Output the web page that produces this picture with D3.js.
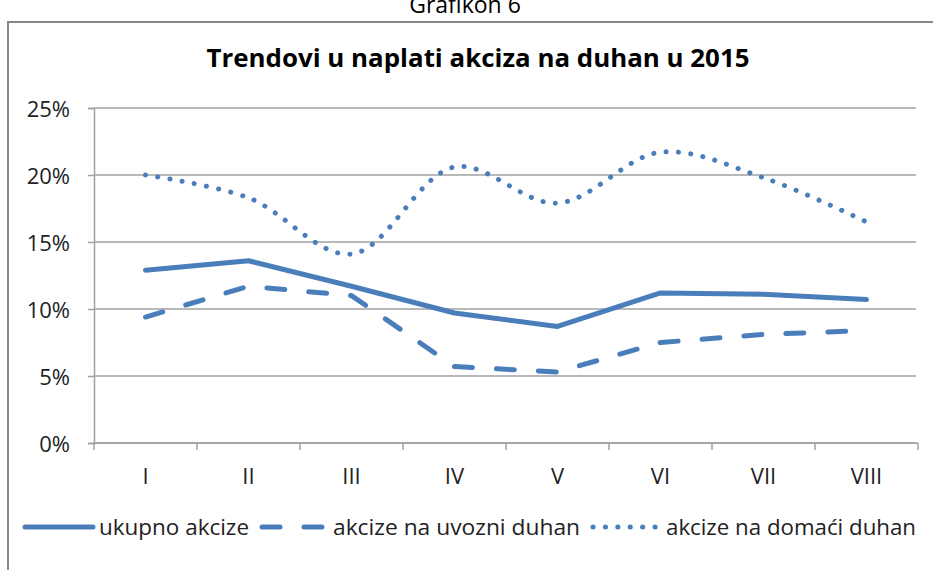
<!DOCTYPE html>
<html>
<head>
<meta charset="utf-8">
<script src="https://cdn.jsdelivr.net/npm/d3@7"></script>
<style>
  html, body { margin: 0; padding: 0; background: #fff; overflow: hidden; }
  svg { display: block; font-family: "Open Sans", sans-serif; }
</style>
</head>
<body>
<svg id="chart"></svg>
<script>
// data (percent)
const months = ["I", "II", "III", "IV", "V", "VI", "VII", "VIII"];
const ukupno = [12.9, 13.6, 11.7, 9.7, 8.7, 11.2, 11.1, 10.7];
const uvozni = [9.4, 11.7, 11.0, 5.7, 5.3, 7.5, 8.1, 8.4];
const domaci = [20.0, 18.3, 14.1, 20.6, 17.9, 21.7, 19.8, 16.5];
const yTicks = [0, 5, 10, 15, 20, 25];
const seriesNames = ["ukupno akcize", "akcize na uvozni duhan", "akcize na domaći duhan"];

const width = 933, height = 570;
const blue = "#4a7ebb";
const grey = "#a0a0a0";

const svg = d3.select("#chart").attr("width", width).attr("height", height);

// outer frame (cut off at the right / bottom)
svg.append("path")
  .attr("d", "M8," + height + " L8,22 L" + width + ",22")
  .attr("fill", "none")
  .attr("stroke", "#868686")
  .attr("stroke-width", 2);

// caption above the frame, clipped at the top like in the source
svg.append("text")
  .attr("x", 465).attr("y", 13)
  .attr("text-anchor", "middle")
  .attr("font-size", 23)
  .attr("fill", "#000")
  .text("Grafikon 6");

// title
svg.append("text")
  .attr("x", 478).attr("y", 67)
  .attr("text-anchor", "middle")
  .attr("font-size", 25)
  .attr("font-weight", "bold")
  .attr("fill", "#000")
  .attr("textLength", 543)
  .attr("lengthAdjust", "spacingAndGlyphs")
  .text("Trendovi u naplati akciza na duhan u 2015");

// scales
const x = d3.scaleBand().domain(months).range([94, 918]);
const y = d3.scaleLinear().domain([0, 25]).range([443, 108]);

// gridlines
svg.append("g")
  .selectAll("line")
  .data(yTicks)
  .join("line")
  .attr("x1", 94).attr("x2", 916)
  .attr("y1", d => y(d)).attr("y2", d => y(d))
  .attr("stroke", grey)
  .attr("stroke-width", 1.5);

// y axis
const yAxis = svg.append("g")
  .attr("transform", "translate(94,0)")
  .call(d3.axisLeft(y).tickValues(yTicks).tickSize(6).tickPadding(18).tickFormat(d => d + "%"));
yAxis.select(".domain").attr("stroke", grey).attr("stroke-width", 1.5);
yAxis.selectAll(".tick line").attr("stroke", grey).attr("stroke-width", 1.5);
yAxis.selectAll(".tick text")
  .attr("font-size", 22)
  .attr("font-family", "Open Sans")
  .attr("fill", "#222")
  .attr("dy", "0.38em");

// x axis: ticks between categories
const xAxis = svg.append("g").attr("transform", "translate(0,443)");
xAxis.append("line")
  .attr("x1", 94).attr("x2", 918)
  .attr("stroke", grey).attr("stroke-width", 1.5);
const bounds = months.map(m => x(m)).concat([x.range()[1]]);
xAxis.selectAll("line.tk")
  .data(bounds)
  .join("line")
  .attr("class", "tk")
  .attr("x1", d => d).attr("x2", d => d)
  .attr("y1", 0).attr("y2", 7)
  .attr("stroke", grey).attr("stroke-width", 1.5);
xAxis.selectAll("text")
  .data(months)
  .join("text")
  .attr("x", d => x(d) + x.bandwidth() / 2)
  .attr("y", 41)
  .attr("text-anchor", "middle")
  .attr("font-size", 22)
  .attr("fill", "#222")
  .text(d => d);

// lines
const cx = (d, i) => x(months[i]) + x.bandwidth() / 2;
const lineStraight = d3.line().x(cx).y(d => y(d));
const lineSmooth = d3.line().x(cx).y(d => y(d)).curve(d3.curveCatmullRom.alpha(0.5));

const styles = [
  { data: ukupno, gen: lineStraight, dash: null },
  { data: uvozni, gen: lineStraight, dash: "18 24" },
  { data: domaci, gen: lineSmooth, dash: "0.1 12.3" }
];

styles.forEach(s => {
  svg.append("path")
    .datum(s.data)
    .attr("d", s.gen)
    .attr("fill", "none")
    .attr("stroke", blue)
    .attr("stroke-width", 5)
    .attr("stroke-linecap", "round")
    .attr("stroke-linejoin", "round")
    .attr("stroke-dasharray", s.dash);
});

// legend
const legend = svg.append("g").attr("transform", "translate(0,527)");
const sampleLen = [68, 65, 67];
const labelLen = [150, 247, 250];
let lx = 25;
seriesNames.forEach((name, i) => {
  legend.append("line")
    .attr("x1", lx).attr("x2", lx + sampleLen[i])
    .attr("y1", 0).attr("y2", 0)
    .attr("stroke", blue)
    .attr("stroke-width", 5)
    .attr("stroke-linecap", "round")
    .attr("stroke-dasharray", styles[i].dash);
  legend.append("text")
    .attr("x", lx + sampleLen[i] + 6)
    .attr("y", 8)
    .attr("font-size", 22)
    .attr("fill", "#222")
    .attr("textLength", labelLen[i])
    .attr("lengthAdjust", "spacingAndGlyphs")
    .text(name);
  lx += sampleLen[i] + 6 + labelLen[i] + 13;
});
</script>
</body>
</html>
